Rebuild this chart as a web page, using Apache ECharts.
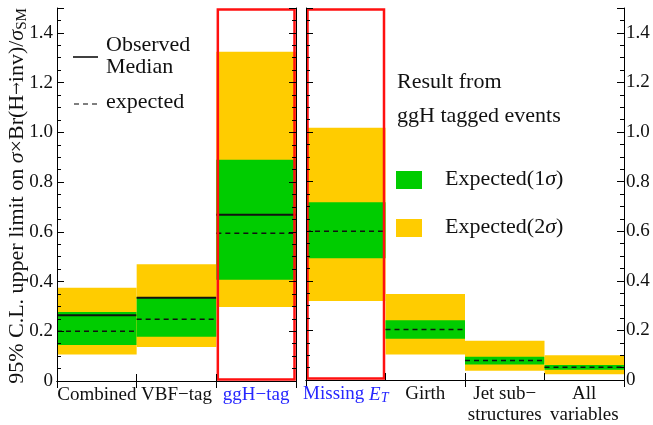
<!DOCTYPE html>
<html><head><meta charset="utf-8">
<script src="https://cdn.jsdelivr.net/npm/echarts@6/dist/echarts.min.js"></script>
<style>html,body{margin:0;padding:0;background:#fff}#c{width:653px;height:425px}</style>
</head><body><div id="c"></div>
<script>
// ---- data ----
const leftCategories = ['Combined', 'VBF\u2212tag', 'ggH\u2212tag'];
const rightCategories = ['Missing E_T', 'Girth', 'Jet sub\u2212\nstructures', 'All\nvariables'];

const leftTwoSigmaLow  = [0.107, 0.137, 0.298];
const leftOneSigmaLow  = [0.145, 0.178, 0.407];
const leftExpected     = [0.200, 0.248, 0.594];
const leftOneSigmaHigh = [0.277, 0.338, 0.890];
const leftTwoSigmaHigh = [0.375, 0.470, 1.324];
const leftObserved     = [0.264, 0.335, 0.669];
const leftHighlighted  = [false, false, true];

const rightTwoSigmaLow  = [0.319, 0.103, 0.037, 0.023];
const rightOneSigmaLow  = [0.491, 0.166, 0.063, 0.041];
const rightExpected     = [0.600, 0.204, 0.079, 0.051];
const rightOneSigmaHigh = [0.717, 0.241, 0.094, 0.060];
const rightTwoSigmaHigh = [1.017, 0.347, 0.158, 0.100];
const rightObserved     = [null, null, null, null];
const rightHighlighted  = [true, false, false, false];

const yMin = 0, yMax = 1.5, yMajorStep = 0.2, yMinorStep = 0.05;

// ---- styles ----
const FONT = '"Liberation Serif", "Times New Roman", serif';
const YELLOW = '#ffcc00', GREEN = '#00cc00', RED = '#ff1010', BLUE = '#2626ff';

function makeRenderer(lo2, lo1, ex, hi1, hi2, obs, hl) {
  return function (params, api) {
    const i = params.dataIndex;
    const idx = api.value(0);
    const bw = api.size([1, 0])[0];
    const cx = api.coord([idx, 0])[0];
    const x0 = cx - bw / 2;
    const Y = v => api.coord([idx, v])[1];
    const children = [
      {type: 'rect', shape: {x: x0, y: Y(hi2[i]), width: bw, height: Y(lo2[i]) - Y(hi2[i])}, style: {fill: YELLOW}},
      {type: 'rect', shape: {x: x0, y: Y(hi1[i]), width: bw, height: Y(lo1[i]) - Y(hi1[i])}, style: {fill: GREEN}},
      {type: 'line', shape: {x1: x0, y1: Y(ex[i]), x2: x0 + bw, y2: Y(ex[i])}, style: {stroke: '#111', lineWidth: 1.5, lineDash: [5, 4]}}
    ];
    if (obs[i] != null) {
      children.push({type: 'line', shape: {x1: x0, y1: Y(obs[i]), x2: x0 + bw, y2: Y(obs[i])}, style: {stroke: '#111', lineWidth: 2}});
    }
    if (hl[i]) {
      const yt = Y(yMax), yb = Y(yMin);
      children.push({type: 'rect', shape: {x: x0 + 1.5, y: yt + 1.5, width: bw - 3, height: yb - yt - 3}, style: {fill: 'none', stroke: RED, lineWidth: 2.5}});
    }
    return {type: 'group', children};
  };
}

function labelFormatter(highlighted, cats) {
  return function (value, index) {
    const key = highlighted[index] ? 'b' : 'n';
    if (value === 'Missing E_T') return '{' + key + '|Missing }{' + key + 'i|E}{' + key + 's|T}';
    return value.split('\n').map(s => '{' + key + '|' + s + '}').join('\n');
  };
}
const labelRich = {
  n: {fontFamily: FONT, fontSize: 19, color: '#111', lineHeight: 21},
  b: {fontFamily: FONT, fontSize: 19, color: BLUE, lineHeight: 21},
  bi: {fontFamily: FONT, fontSize: 19, color: BLUE, fontStyle: 'italic', lineHeight: 21},
  bs: {fontFamily: FONT, fontSize: 14, color: BLUE, fontStyle: 'italic', lineHeight: 12, verticalAlign: 'bottom'}
};

const axisLineStyle = {show: true, lineStyle: {color: '#000', width: 1}};

function xAxes(gridIndex, cats, highlighted) {
  return [
    {type: 'category', gridIndex, data: cats, position: 'bottom', z: 5,
     axisLine: axisLineStyle, axisTick: {show: true, inside: true, length: 7, lineStyle: {color: '#000'}},
     axisLabel: {margin: 4, interval: 0, formatter: labelFormatter(highlighted, cats), rich: labelRich, fontFamily: FONT, fontSize: 19}},
    {type: 'category', gridIndex, data: cats, position: 'top', z: 5,
     axisLine: axisLineStyle, axisTick: {show: true, inside: true, length: 7, lineStyle: {color: '#000'}},
     axisLabel: {show: false}}
  ];
}
function yAxis(gridIndex, position, major, showLabel) {
  return {type: 'value', gridIndex, position, min: yMin, max: yMax, z: 5,
    interval: major ? yMajorStep : yMinorStep,
    splitLine: {show: false},
    axisLine: major ? axisLineStyle : {show: false},
    axisTick: {show: true, inside: true, length: major ? 7 : 4, lineStyle: {color: '#000'}},
    axisLabel: {show: major && showLabel, margin: position === 'left' ? 4 : 2, fontFamily: FONT, fontSize: 19, color: '#111',
      formatter: v => v === 0 ? '0' : (v > 1.45 ? '' : v.toFixed(1))}};
}

const chart = echarts.init(document.getElementById('c'), null, {renderer: 'canvas'});
chart.setOption({
  animation: false,
  backgroundColor: '#fff',
  grid: [
    {left: 57, top: 8, width: 239, height: 373},
    {left: 306, top: 8, width: 318, height: 373}
  ],
  xAxis: [...xAxes(0, leftCategories, leftHighlighted), ...xAxes(1, rightCategories, rightHighlighted)],
  yAxis: [
    yAxis(0, 'left', true, true), yAxis(0, 'left', false, false),
    yAxis(0, 'right', true, false), yAxis(0, 'right', false, false),
    yAxis(1, 'left', true, false), yAxis(1, 'left', false, false),
    yAxis(1, 'right', true, true), yAxis(1, 'right', false, false)
  ],
  series: [
    {type: 'custom', xAxisIndex: 0, yAxisIndex: 0, z: 2,
     renderItem: makeRenderer(leftTwoSigmaLow, leftOneSigmaLow, leftExpected, leftOneSigmaHigh, leftTwoSigmaHigh, leftObserved, leftHighlighted),
     encode: {x: 0, y: [1, 2]},
     data: leftCategories.map((c, i) => [i, leftTwoSigmaLow[i], leftTwoSigmaHigh[i]])},
    {type: 'custom', xAxisIndex: 2, yAxisIndex: 4, z: 2,
     renderItem: makeRenderer(rightTwoSigmaLow, rightOneSigmaLow, rightExpected, rightOneSigmaHigh, rightTwoSigmaHigh, rightObserved, rightHighlighted),
     encode: {x: 0, y: [1, 2]},
     data: rightCategories.map((c, i) => [i, rightTwoSigmaLow[i], rightTwoSigmaHigh[i]])}
  ],
  graphic: [
    {type: 'text', x: 17, y: 196, rotation: Math.PI / 2, z: 10,
     style: {text: '{n|95% C.L. upper limit on }{i|\u03c3}{n|\u00d7Br(H}{a|\u2192}{n|inv)/}{i|\u03c3}{s|SM}',
       align: 'center', verticalAlign: 'middle', fontFamily: FONT, fontSize: 22, fill: '#111',
       rich: {
         n: {fontFamily: FONT, fontSize: 22, lineHeight: 26, color: '#111'},
         a: {fontFamily: '"DejaVu Serif", serif', fontSize: 15, lineHeight: 26, color: '#111'},
         i: {fontFamily: FONT, fontSize: 22, lineHeight: 26, fontStyle: 'italic', color: '#111'},
         s: {fontFamily: FONT, fontSize: 15, lineHeight: 13, verticalAlign: 'bottom', color: '#111'}
       }}},
    {type: 'line', shape: {x1: 73, y1: 57, x2: 98, y2: 57}, style: {stroke: '#000', lineWidth: 1.5}, z: 10},
    {type: 'text', x: 106, y: 45, z: 10, style: {text: 'Observed', fontFamily: FONT, fontSize: 22, fill: '#111', verticalAlign: 'middle'}},
    {type: 'text', x: 106, y: 67, z: 10, style: {text: 'Median', fontFamily: FONT, fontSize: 22, fill: '#111', verticalAlign: 'middle'}},
    {type: 'line', shape: {x1: 74, y1: 104, x2: 97, y2: 104}, style: {stroke: '#000', lineWidth: 1.2, lineDash: [5, 4]}, z: 10},
    {type: 'text', x: 106, y: 102, z: 10, style: {text: 'expected', fontFamily: FONT, fontSize: 22, fill: '#111', verticalAlign: 'middle'}},
    {type: 'text', x: 397, y: 82, z: 10, style: {text: 'Result from', fontFamily: FONT, fontSize: 22, fill: '#111', verticalAlign: 'middle'}},
    {type: 'text', x: 397, y: 116, z: 10, style: {text: 'ggH tagged events', fontFamily: FONT, fontSize: 22, fill: '#111', verticalAlign: 'middle'}},
    {type: 'rect', shape: {x: 396, y: 171, width: 26, height: 18}, style: {fill: GREEN}, z: 10},
    {type: 'text', x: 445, y: 179, z: 10, style: {text: 'Expected(1{i|\u03c3})', fontFamily: FONT, fontSize: 22, fill: '#111', verticalAlign: 'middle',
      rich: {i: {fontFamily: FONT, fontSize: 22, fontStyle: 'italic', color: '#111'}}}},
    {type: 'rect', shape: {x: 396, y: 219, width: 26, height: 18}, style: {fill: YELLOW}, z: 10},
    {type: 'text', x: 445, y: 227, z: 10, style: {text: 'Expected(2{i|\u03c3})', fontFamily: FONT, fontSize: 22, fill: '#111', verticalAlign: 'middle',
      rich: {i: {fontFamily: FONT, fontSize: 22, fontStyle: 'italic', color: '#111'}}}}
  ]
});
</script></body></html>
